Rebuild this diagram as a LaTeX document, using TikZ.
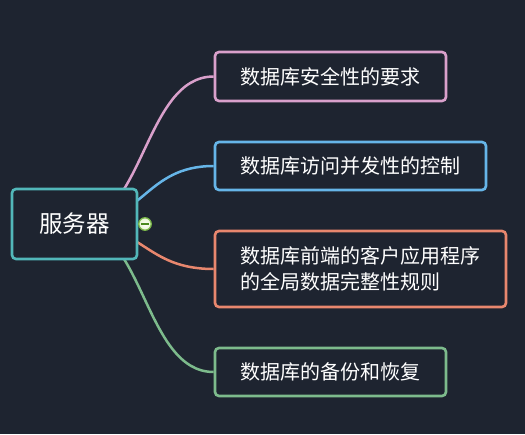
\documentclass[tikz,border=0pt]{standalone}
\usepackage{fontspec}
\setmainfont{Noto Sans CJK SC}
\usetikzlibrary{calc,backgrounds}
\definecolor{bg}{HTML}{1E2430}
\definecolor{cteal}{HTML}{52B7B9}
\definecolor{cpink}{HTML}{D9A0CB}
\definecolor{cblue}{HTML}{66B5E8}
\definecolor{csalmon}{HTML}{E8876E}
\definecolor{cgreen}{HTML}{7DBB8C}
\definecolor{btnfill}{HTML}{E6F4D2}
\definecolor{btnline}{HTML}{7AB648}
\definecolor{btnminus}{HTML}{4A8A20}
\tikzset{
  mmbox/.style={draw=#1, line width=2.6pt, rounded corners=4pt, fill=bg, text=white, inner ysep=0pt, align=left},
  child/.style={mmbox=#1, font=\fontsize{20}{26}\selectfont, inner xsep=25pt},
  link/.style={draw=#1, line width=2.5pt},
}
\begin{document}
\begin{tikzpicture}[x=1pt,y=-1pt]
\useasboundingbox (0,0) rectangle (525,434);
\node[mmbox=cteal, font=\fontsize{23.5}{28}\selectfont, minimum width=125pt, minimum height=70pt, align=center] (root) at (74.5,224) {服务器};
\node[child=cpink, text width=181pt, minimum height=49pt] (c1) at (330.5,76.5) {数据库安全性的要求};
\node[child=cblue, text width=221pt, minimum height=48pt] (c2) at (350.5,166) {数据库访问并发性的控制};
\node[child=csalmon, text width=241pt, minimum height=76pt] (c3) at (360.5,269) {数据库前端的客户应用程序\\的全局数据完整性规则};
\node[child=cgreen, text width=181pt, minimum height=48pt] (c4) at (330.5,372) {数据库的备份和恢复};
\node[circle, draw=btnline, line width=1.3pt, inner color=white, outer color=btnfill, minimum size=12.5pt, inner sep=0pt] (btn) at (145,224) {};
\draw[btnminus, line width=1.6pt] ([xshift=-4pt]btn.center) -- ([xshift=4pt]btn.center);
\begin{scope}[on background layer]
\fill[bg] (0,0) rectangle (525,434);
\foreach \c/\col in {c1/cpink,c2/cblue,c3/csalmon,c4/cgreen}{
  \coordinate (m) at ($(root.center)!0.5!(\c.west)$);
  \draw[link=\col] (root.center) .. controls (m |- root.center) and (m |- \c.west) .. (\c.west);
}
\end{scope}
\end{tikzpicture}
\end{document}
